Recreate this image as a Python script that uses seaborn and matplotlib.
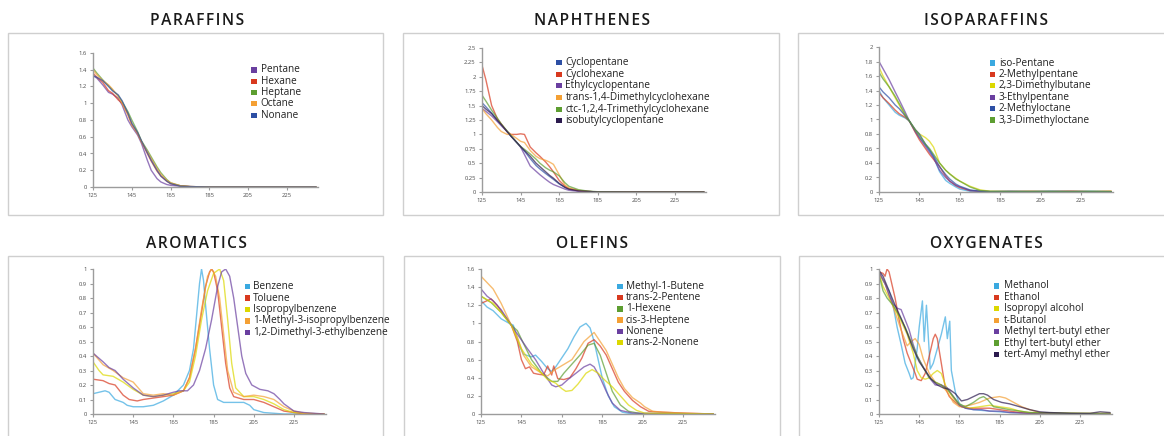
import matplotlib
matplotlib.use("Agg")
import matplotlib.pyplot as plt
from matplotlib.patches import Rectangle
import pandas as pd
import seaborn as sns

# ---------------------------------------------------------------- colours
PURPLE = "#6a3fa0"
RED = "#d8391f"
GREEN = "#5d9e31"
ORANGE = "#f4a034"
BLUE = "#2d4fa4"
SKY = "#3aa9e0"
YELLOW = "#dcd800"
NAVY = "#2b1a4e"

# ---------------------------------------------------------------- paraffins
paraffin_temp = [125, 127, 130, 133, 135, 138, 140, 143, 145, 148, 150, 153,
                 155, 158, 160, 163, 165, 170, 175, 185, 200, 220, 240]
pentane = [1.33, 1.30, 1.22, 1.13, 1.11, 1.06, 0.98, 0.80, 0.72, 0.62, 0.52, 0.32,
           0.20, 0.10, 0.06, 0.03, 0.02, 0.01, 0.005, 0, 0, 0, 0]
hexane = [1.36, 1.31, 1.25, 1.15, 1.12, 1.04, 1.00, 0.87, 0.75, 0.64, 0.54, 0.40,
          0.31, 0.19, 0.13, 0.07, 0.04, 0.015, 0.005, 0, 0, 0, 0]
heptane = [1.42, 1.36, 1.28, 1.21, 1.16, 1.09, 1.02, 0.90, 0.80, 0.66, 0.55, 0.44,
           0.36, 0.24, 0.17, 0.09, 0.05, 0.015, 0.005, 0, 0, 0, 0]
octane = [1.40, 1.34, 1.27, 1.22, 1.17, 1.08, 1.00, 0.86, 0.74, 0.64, 0.54, 0.42,
          0.34, 0.22, 0.15, 0.08, 0.05, 0.015, 0.005, 0, 0, 0, 0]
nonane = [1.33, 1.31, 1.27, 1.20, 1.15, 1.10, 1.03, 0.88, 0.76, 0.65, 0.55, 0.41,
          0.32, 0.20, 0.13, 0.07, 0.04, 0.01, 0.005, 0, 0, 0, 0]

# ---------------------------------------------------------------- naphthenes
naphthene_temp = [125, 127, 130, 133, 135, 138, 140, 143, 145, 147, 150, 153, 155,
                  158, 160, 162, 165, 168, 170, 175, 180, 185, 200, 220, 240]
cyclopentane = [1.55, 1.48, 1.37, 1.25, 1.17, 1.05, 0.97, 0.86, 0.78, 0.71, 0.58, 0.46, 0.40,
                0.32, 0.27, 0.22, 0.14, 0.08, 0.05, 0.02, 0.01, 0, 0, 0, 0]
cyclohexane = [2.20, 1.95, 1.50, 1.27, 1.18, 1.05, 1.00, 1.00, 1.01, 1.00, 0.78, 0.68, 0.62,
               0.52, 0.44, 0.35, 0.20, 0.10, 0.06, 0.02, 0.01, 0, 0, 0, 0]
ethylcyclopentane = [1.45, 1.40, 1.32, 1.22, 1.15, 1.05, 0.97, 0.86, 0.78, 0.65, 0.45, 0.36, 0.30,
                     0.22, 0.17, 0.13, 0.09, 0.05, 0.03, 0.01, 0.005, 0, 0, 0, 0]
dmch_trans14 = [1.45, 1.36, 1.25, 1.12, 1.05, 1.00, 1.00, 0.93, 0.88, 0.86, 0.72, 0.62, 0.58,
                0.55, 0.52, 0.48, 0.30, 0.12, 0.07, 0.03, 0.01, 0, 0, 0, 0]
tmch_ctc124 = [1.68, 1.58, 1.42, 1.28, 1.18, 1.06, 0.98, 0.86, 0.79, 0.74, 0.66, 0.57, 0.50,
               0.42, 0.38, 0.35, 0.28, 0.16, 0.10, 0.04, 0.015, 0.005, 0, 0, 0]
isobutylcyclopentane = [1.50, 1.44, 1.36, 1.24, 1.17, 1.05, 0.97, 0.86, 0.79, 0.72, 0.62, 0.50, 0.44,
                        0.35, 0.29, 0.24, 0.15, 0.08, 0.05, 0.02, 0.01, 0, 0, 0, 0]

# ---------------------------------------------------------------- isoparaffins
isoparaffin_temp = [125, 127, 130, 133, 135, 138, 140, 143, 145, 148, 150, 152, 155,
                    158, 160, 163, 165, 170, 175, 180, 190, 200, 210, 220, 230, 240]
isopentane = [1.40, 1.30, 1.20, 1.10, 1.06, 1.02, 0.98, 0.85, 0.75, 0.65, 0.58, 0.48, 0.28,
              0.16, 0.12, 0.07, 0.04, 0.01, 0.005, 0.005, 0.01, 0.005, 0.01, 0.005, 0.01, 0.005]
methylpentane2 = [1.37, 1.30, 1.22, 1.13, 1.08, 1.03, 0.98, 0.82, 0.72, 0.60, 0.52, 0.45, 0.35,
                  0.22, 0.15, 0.09, 0.06, 0.02, 0.01, 0.005, 0.005, 0.01, 0.005, 0.01, 0.005, 0.01]
dimethylbutane23 = [1.72, 1.60, 1.45, 1.30, 1.20, 1.05, 0.98, 0.86, 0.80, 0.75, 0.70, 0.62, 0.40,
                    0.30, 0.25, 0.19, 0.15, 0.08, 0.03, 0.01, 0.01, 0.005, 0.01, 0.01, 0.005, 0.01]
ethylpentane3 = [1.80, 1.70, 1.55, 1.38, 1.27, 1.10, 0.98, 0.83, 0.75, 0.63, 0.55, 0.47, 0.30,
                 0.20, 0.15, 0.09, 0.07, 0.02, 0.01, 0.005, 0.01, 0.005, 0.005, 0.01, 0.005, 0.005]
methyloctane2 = [1.45, 1.38, 1.30, 1.20, 1.15, 1.05, 0.98, 0.86, 0.80, 0.66, 0.58, 0.50, 0.35,
                 0.24, 0.18, 0.11, 0.08, 0.03, 0.01, 0.005, 0.005, 0.005, 0.01, 0.005, 0.005, 0.005]
dimethyloctane33 = [1.65, 1.56, 1.45, 1.32, 1.22, 1.07, 0.98, 0.85, 0.78, 0.66, 0.60, 0.52, 0.40,
                    0.30, 0.25, 0.18, 0.15, 0.07, 0.02, 0.01, 0.005, 0.01, 0.005, 0.005, 0.01, 0.005]

# ---------------------------------------------------------------- aromatics
benzene_t = [125, 128, 131, 133, 136, 140, 142, 145, 148, 150, 155, 160, 165, 170, 173, 175,
             177, 178, 179, 180, 181, 183, 185, 187, 190, 195, 200, 203, 205, 210, 215, 220, 240]
benzene = [0.14, 0.15, 0.16, 0.15, 0.10, 0.08, 0.06, 0.05, 0.05, 0.05, 0.06, 0.09, 0.13, 0.20, 0.30, 0.45,
           0.75, 0.90, 1.00, 0.92, 0.75, 0.45, 0.20, 0.10, 0.08, 0.08, 0.08, 0.06, 0.03, 0.01, 0.005, 0, 0]
toluene_t = [125, 130, 133, 136, 140, 143, 147, 150, 155, 160, 165, 170, 173, 176, 179, 181,
             183, 184, 185, 187, 189, 191, 193, 195, 200, 205, 210, 215, 220, 225, 230, 240]
toluene = [0.24, 0.23, 0.21, 0.20, 0.13, 0.10, 0.09, 0.10, 0.11, 0.12, 0.13, 0.16, 0.25, 0.45, 0.70, 0.88,
           0.98, 1.00, 0.98, 0.85, 0.60, 0.35, 0.18, 0.12, 0.10, 0.10, 0.08, 0.05, 0.02, 0.01, 0, 0]
isopropylbenzene_t = [125, 128, 130, 135, 140, 145, 150, 155, 160, 165, 170, 173, 176, 179, 182,
                      185, 188, 190, 192, 194, 196, 200, 205, 210, 215, 220, 225, 230, 240]
isopropylbenzene = [0.36, 0.30, 0.27, 0.26, 0.22, 0.17, 0.13, 0.12, 0.13, 0.14, 0.16, 0.22, 0.40, 0.65, 0.85,
                    0.97, 1.00, 0.92, 0.65, 0.35, 0.18, 0.12, 0.12, 0.10, 0.07, 0.03, 0.01, 0.005, 0]
methylisopropylbenzene_t = [125, 130, 135, 140, 145, 150, 155, 160, 165, 170, 173, 176, 179, 182,
                            184, 186, 188, 190, 192, 195, 200, 205, 210, 215, 220, 225, 230, 240]
methylisopropylbenzene = [0.42, 0.34, 0.30, 0.25, 0.22, 0.14, 0.13, 0.14, 0.13, 0.16, 0.25, 0.45, 0.72, 0.95,
                          1.00, 0.95, 0.80, 0.55, 0.30, 0.15, 0.12, 0.13, 0.12, 0.10, 0.05, 0.02, 0.005, 0]
dimethylethylbenzene_t = [125, 130, 133, 136, 140, 145, 150, 155, 160, 165, 168, 172, 175, 178, 181,
                          184, 187, 189, 191, 193, 195, 197, 199, 201, 204, 208, 212, 215, 218, 220,
                          223, 225, 230, 240]
dimethylethylbenzene = [0.42, 0.36, 0.32, 0.30, 0.24, 0.18, 0.13, 0.12, 0.13, 0.15, 0.16, 0.16, 0.20, 0.30, 0.45,
                        0.65, 0.88, 0.98, 1.00, 0.95, 0.80, 0.60, 0.40, 0.28, 0.20, 0.17, 0.16, 0.14, 0.10, 0.07,
                        0.04, 0.02, 0.01, 0]

# ---------------------------------------------------------------- olefins
methylbutene_t = [125, 128, 131, 135, 139, 141, 144, 146, 150, 152, 155, 158, 160, 162, 165, 168,
                  171, 174, 177, 179, 181, 183, 185, 188, 191, 195, 200, 240]
methylbutene = [1.25, 1.18, 1.14, 1.05, 1.00, 0.98, 0.75, 0.66, 0.63, 0.65, 0.58, 0.50, 0.47, 0.52, 0.62, 0.72,
                0.85, 0.96, 1.00, 0.95, 0.80, 0.60, 0.40, 0.20, 0.08, 0.02, 0, 0]
pentene_t = [125, 128, 130, 133, 136, 140, 143, 145, 147, 149, 151, 153, 156, 158, 160, 161, 163,
             166, 169, 172, 175, 178, 181, 184, 187, 190, 193, 196, 200, 204, 208, 215, 225, 240]
pentene = [1.22, 1.25, 1.27, 1.20, 1.10, 0.98, 0.80, 0.60, 0.50, 0.52, 0.45, 0.44, 0.43, 0.53, 0.43, 0.53, 0.39,
           0.38, 0.40, 0.50, 0.62, 0.78, 0.82, 0.75, 0.65, 0.50, 0.35, 0.25, 0.15, 0.08, 0.03, 0.02, 0.01, 0]
hexene_t = [125, 130, 135, 140, 143, 146, 150, 155, 160, 163, 166, 170, 174, 178, 181, 184, 187,
            190, 194, 198, 205, 240]
hexene = [1.30, 1.23, 1.12, 0.98, 0.92, 0.78, 0.60, 0.45, 0.36, 0.36, 0.45, 0.55, 0.65, 0.76, 0.78, 0.65, 0.45,
          0.25, 0.10, 0.03, 0, 0]
heptene_t = [125, 128, 131, 135, 140, 143, 146, 150, 155, 158, 161, 164, 167, 170, 173, 176, 179,
             181, 184, 187, 190, 193, 196, 200, 204, 206, 210, 215, 225, 240]
heptene = [1.52, 1.45, 1.38, 1.22, 0.98, 0.85, 0.65, 0.52, 0.45, 0.42, 0.48, 0.52, 0.56, 0.60, 0.70, 0.80, 0.86,
           0.90, 0.80, 0.70, 0.55, 0.40, 0.28, 0.18, 0.12, 0.08, 0.03, 0.02, 0.01, 0]
nonene_t = [125, 128, 131, 135, 140, 144, 148, 152, 156, 160, 162, 165, 168, 172, 176, 179, 181,
            184, 187, 190, 194, 200, 240]
nonene = [1.38, 1.30, 1.25, 1.15, 0.98, 0.85, 0.72, 0.60, 0.45, 0.32, 0.30, 0.32, 0.38, 0.45, 0.52, 0.55, 0.52,
          0.40, 0.25, 0.12, 0.04, 0.01, 0]
transnonene_t = [125, 128, 131, 135, 140, 145, 150, 155, 158, 162, 165, 167, 170, 173, 177, 180,
                 183, 186, 190, 194, 198, 202, 206, 240]
transnonene = [1.30, 1.26, 1.22, 1.12, 0.98, 0.72, 0.55, 0.45, 0.38, 0.34, 0.28, 0.25, 0.26, 0.33, 0.45, 0.49,
               0.45, 0.38, 0.30, 0.20, 0.10, 0.04, 0.01, 0]

# ---------------------------------------------------------------- oxygenates
methanol_t = [125, 127, 130, 132, 134, 136, 138, 140, 141, 142, 143, 144, 145, 146.6, 147.5, 148.6,
              150.5, 152, 154, 156, 158, 159, 160.2, 161, 163, 165, 168, 172, 180, 190, 200, 240]
methanol = [0.98, 0.92, 0.85, 0.75, 0.60, 0.48, 0.35, 0.28, 0.24, 0.25, 0.35, 0.45, 0.60, 0.78, 0.50, 0.75,
            0.31, 0.35, 0.45, 0.55, 0.67, 0.52, 0.64, 0.30, 0.15, 0.07, 0.04, 0.03, 0.02, 0.01, 0.005, 0]
ethanol_t = [125, 127, 128, 129, 130, 131, 133, 135, 137, 139, 141, 143, 144, 146, 148, 150, 152,
             153, 154, 156, 158, 160, 163, 166, 170, 175, 180, 185, 190, 195, 200, 240]
ethanol = [0.98, 0.97, 0.95, 1.00, 0.98, 0.92, 0.80, 0.65, 0.52, 0.42, 0.35, 0.28, 0.24, 0.23, 0.28, 0.40, 0.52,
           0.55, 0.52, 0.35, 0.18, 0.12, 0.08, 0.05, 0.04, 0.04, 0.04, 0.03, 0.02, 0.01, 0.005, 0]
isopropanol_t = [125, 127, 130, 133, 136, 139, 142, 144, 146, 148, 150, 152, 154, 156, 158, 160,
                 163, 166, 170, 175, 180, 185, 190, 195, 200, 210, 240]
isopropanol = [0.97, 0.88, 0.80, 0.72, 0.64, 0.55, 0.42, 0.30, 0.25, 0.24, 0.25, 0.28, 0.30, 0.28, 0.20, 0.15,
               0.09, 0.05, 0.04, 0.05, 0.06, 0.05, 0.04, 0.02, 0.01, 0.005, 0.005]
tbutanol_t = [125, 128, 130, 133, 136, 139, 141, 143, 145, 147, 150, 153, 156, 159, 162, 165, 170,
              175, 180, 185, 188, 192, 196, 200, 205, 210, 240]
tbutanol = [0.97, 0.90, 0.82, 0.70, 0.58, 0.47, 0.50, 0.52, 0.48, 0.38, 0.28, 0.22, 0.20, 0.15, 0.08, 0.05, 0.06,
            0.08, 0.11, 0.12, 0.11, 0.08, 0.05, 0.03, 0.01, 0.005, 0]
mtbe_t = [125, 128, 130, 132, 134, 136, 138, 140, 142, 144, 146, 148, 150, 153, 156, 159, 162, 165,
          168, 172, 176, 180, 185, 190, 200, 240]
mtbe = [0.98, 0.90, 0.82, 0.76, 0.73, 0.72, 0.65, 0.58, 0.48, 0.40, 0.35, 0.30, 0.25, 0.20, 0.20, 0.18, 0.12, 0.06,
        0.04, 0.03, 0.03, 0.02, 0.02, 0.01, 0.005, 0]
etbe_t = [125, 127, 129, 132, 135, 138, 141, 144, 147, 150, 153, 156, 159, 162, 165, 168, 172, 175,
          177, 179, 182, 186, 190, 195, 200, 240]
etbe = [0.96, 0.85, 0.80, 0.75, 0.68, 0.60, 0.50, 0.40, 0.32, 0.25, 0.22, 0.20, 0.17, 0.12, 0.07, 0.05, 0.08, 0.11,
        0.12, 0.10, 0.05, 0.04, 0.03, 0.02, 0.01, 0]
tame_t = [125, 127, 130, 133, 136, 139, 142, 145, 148, 151, 154, 157, 160, 163, 166, 169, 172, 175,
          177, 179, 182, 186, 190, 195, 200, 205, 210, 220, 230, 235, 240]
tame = [0.99, 0.95, 0.85, 0.75, 0.66, 0.56, 0.45, 0.36, 0.30, 0.24, 0.20, 0.18, 0.17, 0.14, 0.09, 0.10, 0.12, 0.14,
        0.14, 0.13, 0.10, 0.08, 0.07, 0.05, 0.03, 0.015, 0.01, 0.005, 0.005, 0.015, 0.01]

# ---------------------------------------------------------------- axis ticks
x_ticks = [125, 145, 165, 185, 205, 225]
paraffin_yticks = [0, 0.2, 0.4, 0.6, 0.8, 1, 1.2, 1.4, 1.6]
naphthene_yticks = [0, 0.25, 0.5, 0.75, 1, 1.25, 1.5, 1.75, 2, 2.25, 2.5]
isoparaffin_yticks = [0, 0.2, 0.4, 0.6, 0.8, 1, 1.2, 1.4, 1.6, 1.8, 2]
unit_yticks = [0, 0.1, 0.2, 0.3, 0.4, 0.5, 0.6, 0.7, 0.8, 0.9, 1]


def series(temps, values, name):
    return pd.DataFrame({"temp": temps, "value": values, "compound": name})


panels = [
    dict(title="PARAFFINS", yticks=paraffin_yticks,
         box=(8, 33, 383, 215), axes=(93, 53, 1.94, 187),
         legend=(254, 260.5, 70, 11.3),
         series=[("Pentane", paraffin_temp, pentane, PURPLE),
                 ("Hexane", paraffin_temp, hexane, RED),
                 ("Heptane", paraffin_temp, heptane, GREEN),
                 ("Octane", paraffin_temp, octane, ORANGE),
                 ("Nonane", paraffin_temp, nonane, BLUE)]),
    dict(title="NAPHTHENES", yticks=naphthene_yticks,
         box=(403, 33, 779, 215), axes=(482, 48, 1.93, 192),
         legend=(559, 565.5, 62.7, 11.6),
         series=[("Cyclopentane", naphthene_temp, cyclopentane, BLUE),
                 ("Cyclohexane", naphthene_temp, cyclohexane, RED),
                 ("Ethylcyclopentane", naphthene_temp, ethylcyclopentane, PURPLE),
                 ("trans-1,4-Dimethylcyclohexane", naphthene_temp, dmch_trans14, ORANGE),
                 ("ctc-1,2,4-Trimethylcyclohexane", naphthene_temp, tmch_ctc124, GREEN),
                 ("isobutylcyclopentane", naphthene_temp, isobutylcyclopentane, NAVY)]),
    dict(title="ISOPARAFFINS", yticks=isoparaffin_yticks,
         box=(798, 33, 1170, 215), axes=(879, 47, 2.02, 192),
         legend=(992.3, 999, 63, 11.4),
         series=[("iso-Pentane", isoparaffin_temp, isopentane, SKY),
                 ("2-Methylpentane", isoparaffin_temp, methylpentane2, RED),
                 ("2,3-Dimethylbutane", isoparaffin_temp, dimethylbutane23, YELLOW),
                 ("3-Ethylpentane", isoparaffin_temp, ethylpentane3, PURPLE),
                 ("2-Methyloctane", isoparaffin_temp, methyloctane2, BLUE),
                 ("3,3-Dimethyloctane", isoparaffin_temp, dimethyloctane33, GREEN)]),
    dict(title="AROMATICS", yticks=unit_yticks,
         box=(8, 256, 383, 440), axes=(93, 269, 2.01, 414),
         legend=(247.3, 253.3, 286.7, 11.4),
         series=[("Benzene", benzene_t, benzene, SKY),
                 ("Toluene", toluene_t, toluene, RED),
                 ("Isopropylbenzene", isopropylbenzene_t, isopropylbenzene, YELLOW),
                 ("1-Methyl-3-isopropylbenzene", methylisopropylbenzene_t, methylisopropylbenzene, ORANGE),
                 ("1,2-Dimethyl-3-ethylbenzene", dimethylethylbenzene_t, dimethylethylbenzene, PURPLE)]),
    dict(title="OLEFINS", yticks=paraffin_yticks,
         box=(404, 256, 780, 440), axes=(481, 269, 2.02, 414),
         legend=(620, 626, 286.7, 11.1),
         series=[("Methyl-1-Butene", methylbutene_t, methylbutene, SKY),
                 ("trans-2-Pentene", pentene_t, pentene, RED),
                 ("1-Hexene", hexene_t, hexene, GREEN),
                 ("cis-3-Heptene", heptene_t, heptene, ORANGE),
                 ("Nonene", nonene_t, nonene, PURPLE),
                 ("trans-2-Nonene", transnonene_t, transnonene, YELLOW)]),
    dict(title="OXYGENATES", yticks=unit_yticks,
         box=(799, 256, 1170, 440), axes=(879, 269, 2.01, 414),
         legend=(996.7, 1004, 286, 11.4),
         series=[("Methanol", methanol_t, methanol, SKY),
                 ("Ethanol", ethanol_t, ethanol, RED),
                 ("Isopropyl alcohol", isopropanol_t, isopropanol, YELLOW),
                 ("t-Butanol", tbutanol_t, tbutanol, ORANGE),
                 ("Methyl tert-butyl ether", mtbe_t, mtbe, PURPLE),
                 ("Ethyl tert-butyl ether", etbe_t, etbe, GREEN),
                 ("tert-Amyl methyl ether", tame_t, tame, NAVY)]),
]

title_centres = [197, 591.5, 986.5, 196.5, 591.5, 986.5]

sns.set_theme(style="white")
plt.rcParams["font.family"] = ["Open Sans", "DejaVu Sans"]

W, H = 1164, 436
fig = plt.figure(figsize=(W / 100, H / 100), dpi=100)
fig.patch.set_facecolor("white")

X_MIN, X_MAX = 125, 241
SPACE = "\u200a"
AXIS_GREY = "#9c9c9c"


def fx(px):
    return px / W


def fy(py):
    return 1 - py / H


for panel, tx in zip(panels, title_centres):
    bx0, by0, bx1, by1 = panel["box"]
    fig.patches.append(Rectangle((fx(bx0), fy(by1)), fx(bx1 - bx0), (by1 - by0) / H,
                                 transform=fig.transFigure, fill=False,
                                 edgecolor="#cfcfcf", linewidth=1.0, zorder=0))
    fig.text(fx(tx), fy(by0 - 12), SPACE.join(panel["title"]), ha="center", va="center",
             fontsize=11.2, fontweight="semibold", color="#1a1a1a")

    left, top, scale, bottom = panel["axes"]
    width = (X_MAX - X_MIN) * scale
    ax = fig.add_axes([fx(left), fy(bottom), fx(width), (bottom - top) / H])
    ax.set_facecolor("none")

    frame = pd.concat([series(t, v, n) for n, t, v, _ in panel["series"]], ignore_index=True)
    palette = {n: c for n, _, _, c in panel["series"]}
    order = [n for n, _, _, _ in panel["series"]]
    sns.lineplot(data=frame, x="temp", y="value", hue="compound", hue_order=order,
                 palette=palette, ax=ax, legend=False, errorbar=None,
                 linewidth=1.0, alpha=0.7)

    ax.set_xlim(X_MIN, X_MAX)
    ax.set_ylim(0, panel["yticks"][-1])
    ax.set_xticks(x_ticks)
    ax.set_yticks(panel["yticks"])
    ax.set_yticklabels([f"{v:g}" for v in panel["yticks"]])
    ax.set_xlabel("")
    ax.set_ylabel("")
    for side in ("top", "right"):
        ax.spines[side].set_visible(False)
    for side in ("left", "bottom"):
        ax.spines[side].set_color(AXIS_GREY)
        ax.spines[side].set_linewidth(1.0)
    ax.tick_params(axis="both", which="major", length=2.5, width=0.8, color=AXIS_GREY,
                   labelsize=4.2, labelcolor="#4a4a4a", pad=2,
                   left=True, bottom=True)
    ax.grid(False)

    mx, tx_, y0, dy = panel["legend"]
    for i, (name, _, _, colour) in enumerate(panel["series"]):
        yy = y0 + i * dy
        fig.patches.append(Rectangle((fx(mx - 2.6), fy(yy + 2.6)), fx(5.2), 5.2 / H,
                                     transform=fig.transFigure, facecolor=colour,
                                     edgecolor="none"))
        fig.text(fx(tx_), fy(yy), name, ha="left", va="center",
                 fontsize=7.2, color="#222222")

fig.savefig("out.png", dpi=100, facecolor="white")
